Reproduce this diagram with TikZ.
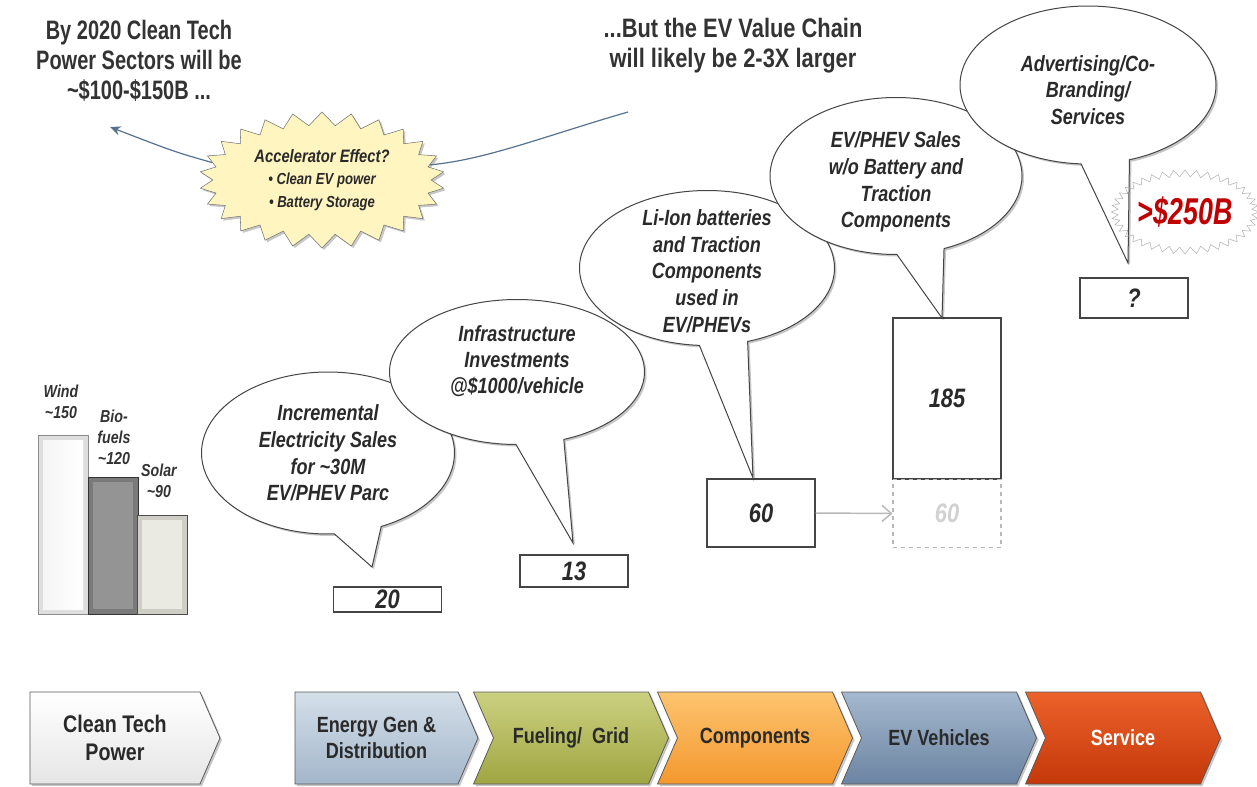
\documentclass[tikz,border=0pt]{standalone}
\usepackage{fontspec}
\setmainfont[FakeStretch=0.82]{Liberation Sans}
\newfontfamily\condensedhead[FakeStretch=0.75]{Liberation Sans}
\newfontfamily\tallfigures[FakeStretch=0.72]{Liberation Sans}
\usetikzlibrary{shapes.symbols,shapes.callouts,shapes.arrows,shadows,arrows.meta}

\definecolor{ink}{HTML}{333333}
\definecolor{bodytext}{HTML}{2A2A2A}
\definecolor{outline}{HTML}{454545}
\definecolor{flowblue}{HTML}{56728F}
\definecolor{burstred}{HTML}{C00000}
\definecolor{starfill}{HTML}{FFF5C0}
\definecolor{ghost}{HTML}{B8B8B8}
\definecolor{solaredge}{RGB}{206,206,198}
\definecolor{solarface}{RGB}{234,234,227}
\definecolor{energytop}{RGB}{212,223,233}
\definecolor{energybot}{RGB}{163,182,202}
\definecolor{fueltop}{RGB}{203,208,128}
\definecolor{fuelbot}{RGB}{160,166,66}
\definecolor{comptop}{RGB}{253,196,112}
\definecolor{compbot}{RGB}{244,152,46}
\definecolor{evtop}{RGB}{164,184,206}
\definecolor{evbot}{RGB}{108,132,162}
\definecolor{servtop}{RGB}{236,98,42}
\definecolor{servbot}{RGB}{196,56,10}

\tikzset{
  softshadow/.style={drop shadow={shadow xshift=1.5pt, shadow yshift=-1.5pt, opacity=0.22, fill=black}},
  headline/.style={font=\fontsize{20}{22.5}\selectfont\bfseries, text=ink, align=center, inner sep=0pt},
  bubble/.style={ellipse callout, draw=outline, line width=0.75pt, fill=white, inner sep=0pt,
    callout pointer arc=22, softshadow},
  bubbletext/.style={font=\fontsize{16.5}{20}\selectfont\bfseries\itshape, text=bodytext, align=center, inner sep=0pt},
  valbox/.style={draw=outline, line width=0.8pt, fill=white, inner sep=0pt, minimum width=81pt,
    font=\fontsize{20}{22}\selectfont\bfseries\itshape, text=bodytext},
  chev/.style={signal, signal to=east, signal pointer angle=133, draw=black!65, line width=0.6pt,
    minimum height=69pt, inner sep=0pt, align=center, font=\fontsize{16.5}{19.5}\selectfont\bfseries,
    text=bodytext, softshadow},
  barlabel/.style={font=\fontsize{13}{15.75}\selectfont\bfseries\itshape, text=ink, align=center, inner sep=0pt},
  flowline/.style={draw=flowblue, line width=0.9pt},
}

\begin{document}
\begin{tikzpicture}[x=0.75pt, y=-0.75pt]
\useasboundingbox (0,0) rectangle (1257,786);

% headlines
\node[headline, font=\condensedhead\fontsize{20}{22.5}\selectfont\bfseries] (sectortitle) at (139,61)
  {By 2020 Clean Tech\\Power Sectors will be\\\textasciitilde\$100-\$150B ...};
\node[headline] (chaintitle) at (733,46) {...But the EV Value Chain\\will likely be 2-3X larger};

% accelerator burst and the link between the two markets
\coordinate (chainend) at (628,112);
\coordinate (sectorend) at (110,127);
\node[starburst, starburst points=26, starburst point height=10pt, random starburst=0,
      draw=black!55, fill=starfill, minimum width=183.75pt, minimum height=102pt,
      inner sep=0pt, align=center, softshadow, text=bodytext,
      font=\fontsize{12}{17}\selectfont\bfseries\itshape] (accel) at (322,180)
  {{\fontsize{13.5}{17}\selectfont Accelerator Effect?}\\\textbullet\ Clean EV power\\\textbullet\ Battery Storage};
\draw[flowline] (chainend) .. controls (545,136) and (485,160) .. (accel.8);
\draw[flowline, -{Stealth[length=8pt, width=7pt]}] (accel.171) .. controls (175,152) .. (sectorend);

% clean tech power bars
\draw[draw=black!45, fill=black!13] (38,435) rectangle (88,614);
\fill[left color=black!4, right color=white] (43,440) rectangle (83,609);
\draw[draw=black!80, fill=black!52] (88,477) rectangle (138,614);
\fill[black!42] (93,482) rectangle (133,609);
\draw[draw=black!70, fill=solaredge] (137,515) rectangle (187,614);
\fill[solarface] (142,520) rectangle (182,609);

\node[barlabel] (windlabel) at (61,402) {Wind\\\textasciitilde150};
\node[barlabel] (biolabel) at (114,437) {Bio-\\fuels\\\textasciitilde120};
\node[barlabel] (solarlabel) at (159,481) {Solar\\\textasciitilde90};

% value boxes
\node[valbox, minimum height=18.75pt] (v20) at (387.5,599.5) {20};
\node[valbox, minimum height=24pt] (v13) at (574,571) {13};
\node[valbox, minimum height=51pt] (v60) at (761,513) {60};
\node[valbox, minimum height=120.75pt] (v185) at (947,398.5) {185};
\node[valbox, minimum height=51pt, draw=ghost, dashed, text=black!18] (v60b) at (947,513.5) {60};
\node[valbox, minimum height=30pt] (vq) at (1134,298) {?};
\draw[draw=ghost, line width=1.1pt, -{Straight Barb[length=7pt, width=12pt]}] (v60.east) -- (v60b.west);

% speech bubbles, each drawn over the previous one
\node[bubble, minimum width=189.75pt, minimum height=121.5pt, callout absolute pointer={(372,567)}] (b1) at (328,453) {};
\node[bubbletext] (t1) at (328,453) {Incremental\\Electricity Sales\\for \textasciitilde30M\\EV/PHEV Parc};
\node[bubble, minimum width=191.25pt, minimum height=108.75pt, callout absolute pointer={(573,543)}] (b2) at (517,372) {};
\node[bubbletext, font=\fontsize{16.5}{19.5}\selectfont\bfseries\itshape] (t2) at (517,361) {Infrastructure\\Investments\\@\$1000/vehicle};
\node[bubble, minimum width=191.25pt, minimum height=116.25pt, callout absolute pointer={(753,478)}] (b3) at (707,268) {};
\node[bubbletext] (t3) at (707,271) {Li-Ion batteries\\and Traction\\Components\\used in\\EV/PHEVs};
\node[bubble, minimum width=189pt, minimum height=117.75pt, callout absolute pointer={(942,318)}] (b4) at (896,176) {};
\node[bubbletext] (t4) at (896,182) {EV/PHEV Sales\\w/o Battery and\\Traction\\Components};
\node[bubble, minimum width=192pt, minimum height=118.5pt, callout absolute pointer={(1128,263)}] (b5) at (1088,85) {};
\node[bubbletext] (t5) at (1088,90) {Advertising/Co-\\Branding/\\Services};

% total market burst
\node[starburst, starburst points=40, starburst point height=5pt, random starburst=0,
      draw=black!30, minimum width=110pt, minimum height=63pt, inner sep=0pt,
      text=burstred, font=\tallfigures\fontsize{28}{30}\selectfont\bfseries\itshape] (total) at (1185,212) {>\$250B};

% value chain
\node[chev, minimum width=142.5pt, top color=white, bottom color=black!10,
      font=\fontsize{18}{21}\selectfont\bfseries] (cleantech) at (115,738) {Clean Tech\\Power};
\node[chev, minimum width=137.25pt, top color=energytop, bottom color=energybot] (energy) at (376.5,738) {Energy Gen \&\\Distribution};
\node[chev, signal from=west, minimum width=146.25pt, top color=fueltop, bottom color=fuelbot] (fueling) at (571,738) {Fueling/\ \ Grid};
\node[chev, signal from=west, minimum width=146.25pt, top color=comptop, bottom color=compbot] (components) at (755,738) {Components};
\node[chev, signal from=west, minimum width=146.25pt, top color=evtop, bottom color=evbot] (vehicles) at (939,738) {EV Vehicles};
\node[chev, signal from=west, minimum width=146.25pt, top color=servtop, bottom color=servbot, text=white] (service) at (1123,738) {Service};
\end{tikzpicture}
\end{document}
